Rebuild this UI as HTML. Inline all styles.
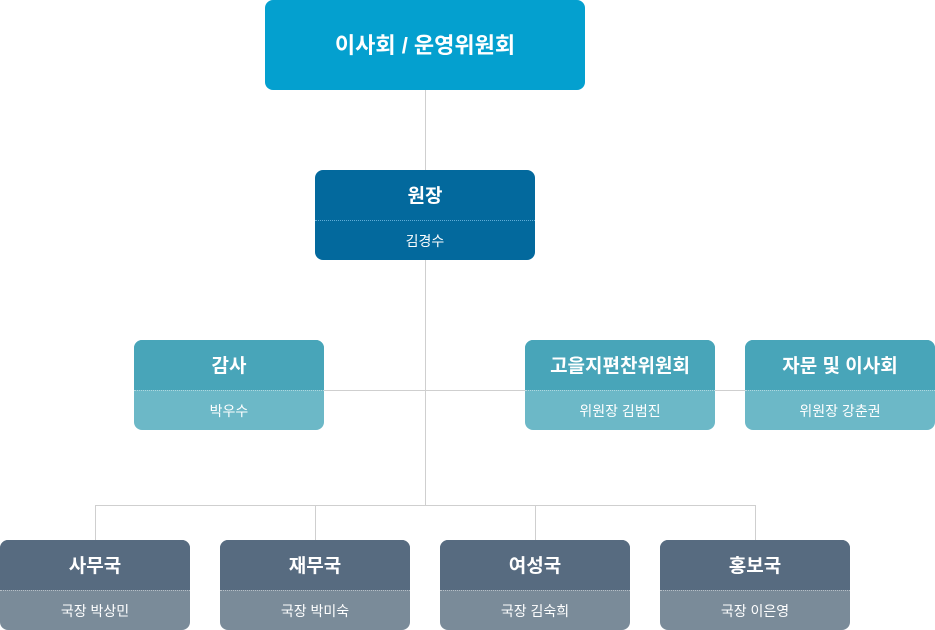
<!DOCTYPE html>
<html><head><meta charset="utf-8"><style>
body{margin:0;width:935px;height:630px;background:#fff;position:relative;overflow:hidden;font-family:"Liberation Sans","Noto Sans CJK KR",sans-serif}
.l{position:absolute;background:#cfcfcf}
.b{position:absolute;border-radius:8px;overflow:hidden;color:#fff;text-align:center}
.t{height:50px;line-height:54px;font-size:19px;font-weight:bold}
.s{height:40px;line-height:40px;font-size:14px;border-top:1px dotted rgba(255,255,255,.45)}
</style></head><body>
<div class="l" style="left:425px;top:90px;width:1px;height:415px"></div>
<div class="l" style="left:324px;top:390px;width:421px;height:1px"></div>
<div class="l" style="left:95px;top:505px;width:661px;height:1px"></div>
<div class="l" style="left:95px;top:505px;width:1px;height:35px"></div>
<div class="l" style="left:315px;top:505px;width:1px;height:35px"></div>
<div class="l" style="left:535px;top:505px;width:1px;height:35px"></div>
<div class="l" style="left:755px;top:505px;width:1px;height:35px"></div>

<div class="b" style="left:265px;top:0;width:320px;height:90px;background:#04a0cf;line-height:92px;font-size:22px;font-weight:bold">이사회 / 운영위원회</div>

<div class="b" style="left:315px;top:170px;width:220px;height:90px;background:#03699d"><div class="t">원장</div><div class="s" style="border-top-color:rgba(120,190,230,.8)">김경수</div></div>

<div class="b" style="left:134px;top:340px;width:190px;height:90px;background:#6cb8c7"><div class="t" style="background:#48a5b9">감사</div><div class="s">박우수</div></div>
<div class="b" style="left:525px;top:340px;width:190px;height:90px;background:#6cb8c7"><div class="t" style="background:#48a5b9">고을지편찬위원회</div><div class="s">위원장 김범진</div></div>
<div class="b" style="left:745px;top:340px;width:190px;height:90px;background:#6cb8c7"><div class="t" style="background:#48a5b9">자문 및 이사회</div><div class="s">위원장 강춘권</div></div>

<div class="b" style="left:0;top:540px;width:190px;height:90px;background:#7a8b99"><div class="t" style="background:#576b80">사무국</div><div class="s">국장 박상민</div></div>
<div class="b" style="left:220px;top:540px;width:190px;height:90px;background:#7a8b99"><div class="t" style="background:#576b80">재무국</div><div class="s">국장 박미숙</div></div>
<div class="b" style="left:440px;top:540px;width:190px;height:90px;background:#7a8b99"><div class="t" style="background:#576b80">여성국</div><div class="s">국장 김숙희</div></div>
<div class="b" style="left:660px;top:540px;width:190px;height:90px;background:#7a8b99"><div class="t" style="background:#576b80">홍보국</div><div class="s">국장 이은영</div></div>
</body></html>
